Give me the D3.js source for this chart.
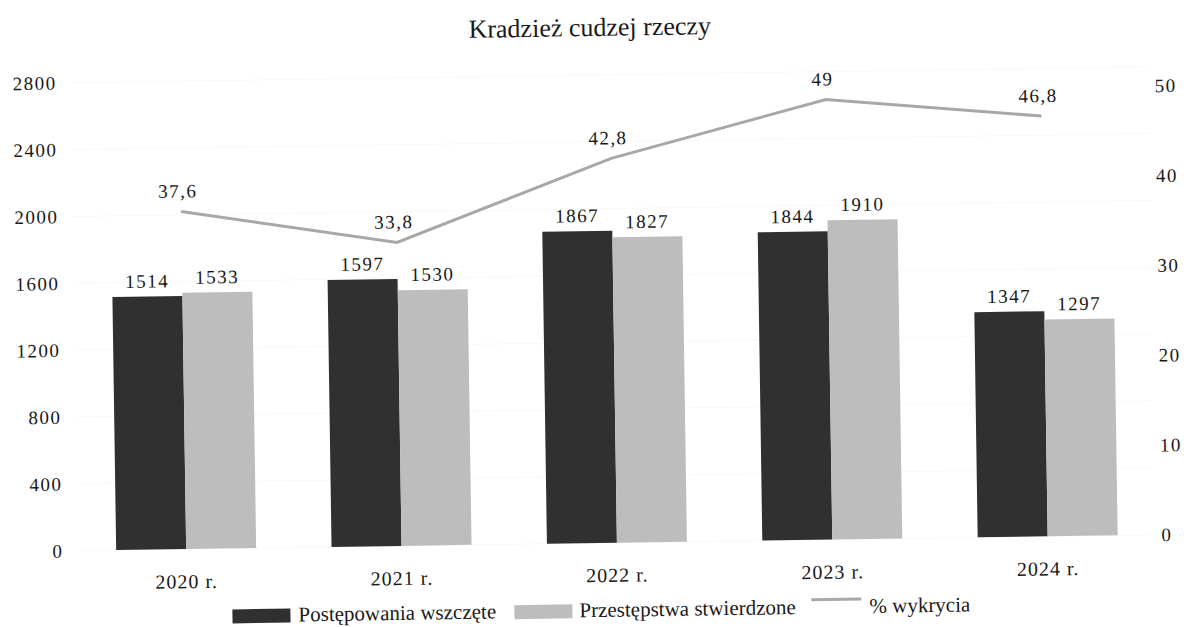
<!DOCTYPE html>
<html>
<head>
<meta charset="utf-8">
<script src="https://cdn.jsdelivr.net/npm/d3@7"></script>
<style>
  body { margin: 0; background: #fff; }
</style>
</head>
<body>
<div id="chart"></div>
<script>
//chart data
const years = ["2020 r.", "2021 r.", "2022 r.", "2023 r.", "2024 r."];
const wszczete = [1514, 1597, 1867, 1844, 1347];
const stwierdzone = [1533, 1530, 1827, 1910, 1297];
const wykrycie = [37.6, 33.8, 42.8, 49, 46.8];
const leftTicks = [0, 400, 800, 1200, 1600, 2000, 2400, 2800];
const rightTicks = [0, 10, 20, 30, 40, 50];

const W = 1189, H = 627;
const serif = "'Liberation Serif', 'Times New Roman', serif";
const darkColor = "#303030", lightColor = "#bdbdbd", lineColor = "#a8a8a8";

var svg = d3.select("#chart").append("svg")
    .attr("width", W)
    .attr("height", H)
    .style("font-family", serif);

//the scan is slightly tilted, so everything goes in a rotated group
var g = svg.append("g")
    .attr("transform", "rotate(-0.85, 594, 313)");

var x = d3.scaleBand()
    .domain(years)
    .range([75, 1152]);

var y = d3.scaleLinear()
    .domain([0, 2800])
    .range([543, 75]);

var yR = d3.scaleLinear()
    .domain([0, 50])
    .range([543, 94]);

var barW = 70;

//faint gridlines
g.append("g")
    .selectAll("line")
    .data(leftTicks)
    .enter()
    .append("line")
        .attr("x1", 75)
        .attr("x2", 1152)
        .attr("y1", d => y(d))
        .attr("y2", d => y(d))
        .style("stroke", "#f8f8f8")
        .style("stroke-width", 1);

//title
g.append("text")
    .attr("x", 594)
    .attr("y", 36)
    .attr("text-anchor", "middle")
    .style("font-family", serif)
    .style("font-size", "26px")
    .style("fill", "#1a1a1a")
    .text("Kradzież cudzej rzeczy");

function styleTicks(sel, size, spacing) {
    sel.select(".domain").remove();
    sel.selectAll("text")
        .style("font-family", serif)
        .style("font-size", size)
        .style("letter-spacing", spacing)
        .style("fill", "#1a1a1a");
}

//left axis
var leftAxis = g.append("g")
    .attr("transform", "translate(60,0)")
    .call(d3.axisLeft(y).tickValues(leftTicks).tickFormat(d3.format("d")).tickSize(0).tickPadding(0));
styleTicks(leftAxis, "19px", "1.5px");

//right axis
var rightAxis = g.append("g")
    .attr("transform", "translate(1158,0)")
    .call(d3.axisRight(yR).tickValues(rightTicks).tickFormat(d3.format("d")).tickSize(0).tickPadding(0));
styleTicks(rightAxis, "19px", "1.5px");

//x axis labels
var xAxis = g.append("g")
    .attr("transform", "translate(0,568)")
    .call(d3.axisBottom(x).tickSize(0).tickPadding(0));
styleTicks(xAxis, "20px", "1px");

//bars - postepowania wszczete
g.append("g")
    .selectAll("rect")
    .data(wszczete)
    .enter()
    .append("rect")
        .attr("x", (d, i) => x(years[i]) + x.bandwidth() / 2 - barW)
        .attr("y", d => y(d))
        .attr("width", barW)
        .attr("height", d => y(0) - y(d))
        .style("fill", darkColor);

//bars - przestepstwa stwierdzone
g.append("g")
    .selectAll("rect")
    .data(stwierdzone)
    .enter()
    .append("rect")
        .attr("x", (d, i) => x(years[i]) + x.bandwidth() / 2)
        .attr("y", d => y(d))
        .attr("width", barW)
        .attr("height", d => y(0) - y(d))
        .style("fill", lightColor);

//bar value labels
function barLabels(values, shift) {
    g.append("g")
        .selectAll("text")
        .data(values)
        .enter()
        .append("text")
            .attr("x", (d, i) => x(years[i]) + x.bandwidth() / 2 + shift)
            .attr("y", d => y(d) - 9)
            .attr("text-anchor", "middle")
            .style("font-family", serif)
            .style("font-size", "19px")
            .style("letter-spacing", "1.5px")
            .style("fill", "#1a1a1a")
            .text(d => d);
}
barLabels(wszczete, -barW / 2);
barLabels(stwierdzone, barW / 2);

//% wykrycia line
var line = d3.line()
    .x((d, i) => x(years[i]) + x.bandwidth() / 2)
    .y(d => yR(d));

g.append("path")
    .datum(wykrycie)
    .attr("d", line)
    .style("fill", "none")
    .style("stroke", lineColor)
    .style("stroke-width", 3);

g.append("g")
    .selectAll("text")
    .data(wykrycie)
    .enter()
    .append("text")
        .attr("x", (d, i) => x(years[i]) + x.bandwidth() / 2 - 3)
        .attr("y", d => yR(d) - 14)
        .attr("text-anchor", "middle")
        .style("font-family", serif)
        .style("font-size", "19px")
        .style("letter-spacing", "1.5px")
        .style("fill", "#1a1a1a")
        .text(d => String(d).replace(".", ","));

//legend
var legend = g.append("g")
    .attr("transform", "translate(0,611)");

var legendItems = [
    {label: "Postępowania wszczęte", type: "rect", color: darkColor, x: 228, tx: 294},
    {label: "Przestępstwa stwierdzone", type: "rect", color: lightColor, x: 510, tx: 575},
    {label: "% wykrycia", type: "line", color: lineColor, x: 807, tx: 865}
];

legendItems.forEach(function(item) {
    if (item.type === "rect") {
        legend.append("rect")
            .attr("x", item.x)
            .attr("y", -7)
            .attr("width", 58)
            .attr("height", 14)
            .style("fill", item.color);
    } else {
        legend.append("line")
            .attr("x1", item.x)
            .attr("x2", item.x + 50)
            .attr("y1", -8)
            .attr("y2", -8)
            .style("stroke", item.color)
            .style("stroke-width", 3);
    }
    legend.append("text")
        .attr("x", item.tx)
        .attr("y", 6)
        .style("font-family", serif)
        .style("font-size", "21px")
        .style("fill", "#1a1a1a")
        .text(item.label);
});
</script>
</body>
</html>
